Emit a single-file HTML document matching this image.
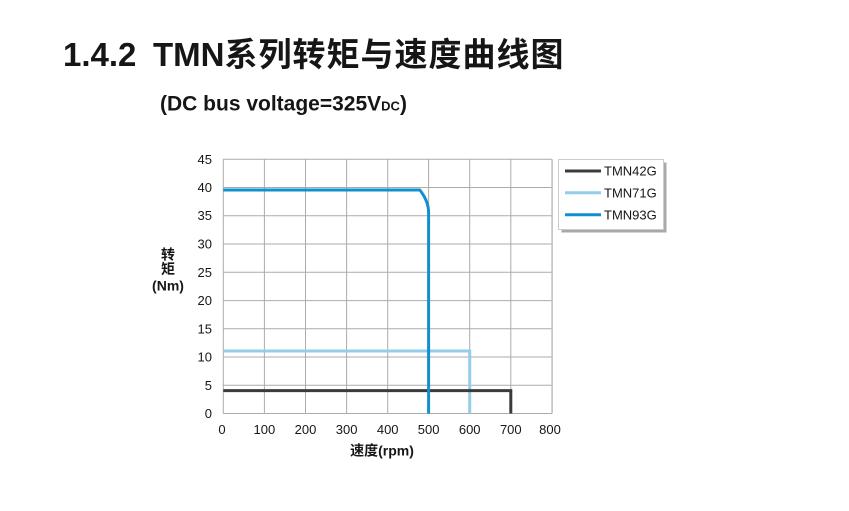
<!DOCTYPE html>
<html>
<head>
<meta charset="utf-8">
<style>
  html, body { margin:0; padding:0; background:#ffffff; }
  svg { display:block; }
  text { font-family: "Liberation Sans", "Noto Sans CJK SC", sans-serif; fill:#161616; }
</style>
</head>
<body>
<svg width="849" height="511" viewBox="0 0 849 511" xmlns="http://www.w3.org/2000/svg">
  <rect width="849" height="511" fill="#ffffff"/>

  <!-- Title -->
  <text x="63" y="66" font-size="33" font-weight="bold">1.4.2</text>
  <text x="153" y="66" font-size="33" font-weight="bold">TMN<tspan letter-spacing="1">系列转矩与速度曲线图</tspan></text>

  <!-- Subtitle -->
  <text x="160" y="110.5" font-size="21" font-weight="bold">(DC bus voltage=325V<tspan font-size="13">DC</tspan>)</text>

  <!-- Grid -->
  <g stroke="#ababab" stroke-width="1" fill="none">
    <!-- horizontal -->
    <line x1="223.3" y1="159.3" x2="552.1" y2="159.3"/>
    <line x1="223.3" y1="187.5" x2="552.1" y2="187.5"/>
    <line x1="223.3" y1="215.7" x2="552.1" y2="215.7"/>
    <line x1="223.3" y1="244.0" x2="552.1" y2="244.0"/>
    <line x1="223.3" y1="272.3" x2="552.1" y2="272.3"/>
    <line x1="223.3" y1="300.6" x2="552.1" y2="300.6"/>
    <line x1="223.3" y1="328.8" x2="552.1" y2="328.8"/>
    <line x1="223.3" y1="357.0" x2="552.1" y2="357.0"/>
    <line x1="223.3" y1="385.3" x2="552.1" y2="385.3"/>
    <line x1="223.3" y1="413.5" x2="552.1" y2="413.5"/>
    <!-- vertical -->
    <line x1="223.3" y1="159.3" x2="223.3" y2="413.5"/>
    <line x1="264.4" y1="159.3" x2="264.4" y2="413.5"/>
    <line x1="305.5" y1="159.3" x2="305.5" y2="413.5"/>
    <line x1="346.6" y1="159.3" x2="346.6" y2="413.5"/>
    <line x1="387.7" y1="159.3" x2="387.7" y2="413.5"/>
    <line x1="428.6" y1="159.3" x2="428.6" y2="413.5"/>
    <line x1="469.7" y1="159.3" x2="469.7" y2="413.5"/>
    <line x1="510.8" y1="159.3" x2="510.8" y2="413.5"/>
    <line x1="552.1" y1="159.3" x2="552.1" y2="413.5" stroke="#bdbdbd" stroke-width="1.5"/>
  </g>

  <!-- Series -->
  <g fill="none" stroke-width="3" stroke-linejoin="miter">
    <path d="M223.3,351 H469.7 V413.5" stroke="#93cdea"/>
    <path d="M223.3,390.6 H510.8 V413.5" stroke="#3b3b3b"/>
    <path d="M223.3,190 H419.8 Q428.6,201 428.6,213 V413.5" stroke="#1090cf"/>
  </g>

  <!-- Y tick labels -->
  <g font-size="13" text-anchor="end">
    <text x="212" y="164">45</text>
    <text x="212" y="192">40</text>
    <text x="212" y="220">35</text>
    <text x="212" y="248.5">30</text>
    <text x="212" y="277">25</text>
    <text x="212" y="305">20</text>
    <text x="212" y="333.5">15</text>
    <text x="212" y="361.5">10</text>
    <text x="212" y="390">5</text>
    <text x="212" y="418">0</text>
  </g>

  <!-- X tick labels -->
  <g font-size="13" text-anchor="middle">
    <text x="222" y="434">0</text>
    <text x="264.4" y="434">100</text>
    <text x="305.5" y="434">200</text>
    <text x="346.6" y="434">300</text>
    <text x="387.7" y="434">400</text>
    <text x="428.6" y="434">500</text>
    <text x="469.7" y="434">600</text>
    <text x="510.8" y="434">700</text>
    <text x="550" y="434">800</text>
  </g>

  <!-- Axis titles -->
  <text x="382" y="455.5" font-size="14" font-weight="bold" text-anchor="middle">速度(rpm)</text>
  <g font-size="14" font-weight="bold" text-anchor="middle">
    <text x="168" y="259.5">转</text>
    <text x="168" y="274">矩</text>
    <text x="168" y="290.5">(Nm)</text>
  </g>

  <!-- Legend -->
  <rect x="561.5" y="162.5" width="105" height="70" fill="#a9a9a9"/>
  <rect x="558.5" y="159.5" width="105" height="70" fill="#ffffff" stroke="#cccccc" stroke-width="1"/>
  <g stroke-width="3">
    <line x1="565" y1="171" x2="601" y2="171" stroke="#3b3b3b"/>
    <line x1="565" y1="192.8" x2="601" y2="192.8" stroke="#93cdea"/>
    <line x1="565" y1="214.8" x2="601" y2="214.8" stroke="#1090cf"/>
  </g>
  <g font-size="13">
    <text x="604" y="175.5">TMN42G</text>
    <text x="604" y="197.5">TMN71G</text>
    <text x="604" y="219.5">TMN93G</text>
  </g>
</svg>
</body>
</html>
